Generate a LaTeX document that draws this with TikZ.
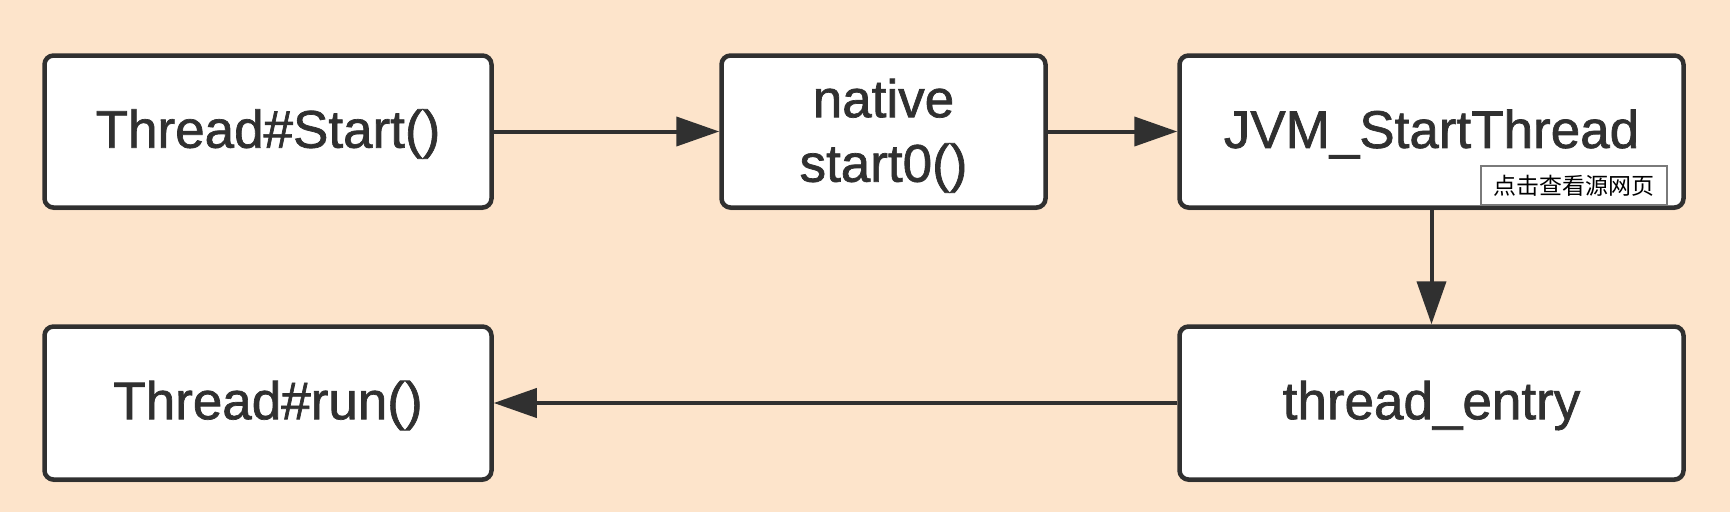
\documentclass[tikz,border=0pt]{standalone}
\usepackage{fontspec}
\setmainfont{Liberation Sans}
\newfontfamily\medfont{Liberation Sans}[FakeBold=1.3]
\newfontfamily\cjk{Noto Sans CJK SC}
\usetikzlibrary{arrows.meta,shadows}
\definecolor{bgc}{HTML}{FDE4CB}
\definecolor{inkc}{HTML}{303030}
\definecolor{tipc}{HTML}{7A7A7A}
\newcommand{\lowr}[2]{\raisebox{-#1}[\height][\depth]{#2}}
\tikzset{
  box/.style={draw=inkc, line width=4.5pt, fill=white, rounded corners=9pt,
    font=\medfont\fontsize{53}{60}\selectfont, text=inkc, align=center, inner sep=0pt,
    drop shadow={shadow xshift=0pt, shadow yshift=-2.5pt, opacity=0.35, fill=black}},
  flow/.style={draw=inkc, line width=4pt, -{Triangle[length=43pt,width=29pt]}},
  tipbox/.style={draw=tipc, line width=1.2pt, fill=white, inner sep=0pt,
    minimum width=186pt, minimum height=39pt, font=\cjk\fontsize{23}{25}\selectfont, text=black}
}
\begin{document}
\begin{tikzpicture}[x=1pt,y=-1pt]
\fill[bgc] (0,0) rectangle (1730,512);
\useasboundingbox (0,0) rectangle (1730,512);
\node[box, minimum width=447pt, minimum height=152pt] (b1) at (268,131.5) {\lowr{2.5pt}{Thread\#Start()}};
\node[box, minimum width=324pt, minimum height=152pt] (b2) at (883.5,131.5) {\lowr{2pt}{native}\\\lowr{6.5pt}{start0()}};
\node[box, minimum width=504pt, minimum height=152pt] (b3) at (1431.5,131.5) {\lowr{2.5pt}{JVM\_StartThread}};
\node[box, minimum width=504pt, minimum height=153pt] (b4) at (1431.5,403) {\lowr{2.5pt}{thread\_entry}};
\node[box, minimum width=447pt, minimum height=153pt] (b5) at (268,403) {\lowr{2.5pt}{Thread\#run()}};
\node[tipbox] (tip) at (1574,185.5) {点击查看源网页};
\draw[flow] (b1.east) -- (b2.west);
\draw[flow] (b2.east) -- (b3.west);
\draw[flow] (b3.south) -- (b4.north);
\draw[flow] (b4.west) -- (b5.east);
\end{tikzpicture}
\end{document}
